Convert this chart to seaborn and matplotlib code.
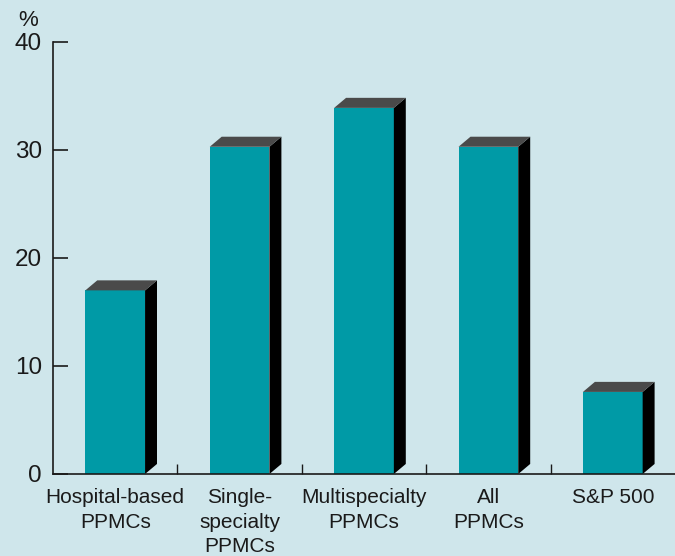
import matplotlib
matplotlib.use("Agg")
import matplotlib.pyplot as plt
from matplotlib.patches import Polygon
from matplotlib import font_manager
import seaborn as sns
import pandas as pd

categories = ["Hospital-based\nPPMCs", "Single-\nspecialty\nPPMCs", "Multispecialty\nPPMCs", "All\nPPMCs", "S&P 500"]
values = [17.0, 30.3, 33.9, 30.3, 7.6]
yticks = [0, 10, 20, 30, 40]

sns.set_theme(style="white")
names = {f.name for f in font_manager.fontManager.ttflist}
fam = "Liberation Sans Narrow" if "Liberation Sans Narrow" in names else "Liberation Sans"
plt.rcParams["font.family"] = [fam, "DejaVu Sans"]

bg = "#cfe6eb"
teal = "#009aa6"
fig = plt.figure(figsize=(6.75, 5.56), dpi=100, facecolor=bg)
ax = fig.add_axes([53/675, 82/556, 1 - 53/675, (474-42)/556])
ax.set_facecolor(bg)

df = pd.DataFrame({"cat": categories, "val": values})
sns.barplot(data=df, x="cat", y="val", color=teal, saturation=1, width=0.48, ax=ax, linewidth=0)

dx, dy = 0.096, 0.93
for p in ax.patches[:len(values)]:
    x0, w, h = p.get_x(), p.get_width(), p.get_height()
    side = Polygon([(x0+w, 0), (x0+w+dx, dy), (x0+w+dx, h+dy), (x0+w, h)], closed=True,
                   facecolor="black", edgecolor="none", clip_on=False, zorder=3)
    top = Polygon([(x0, h), (x0+dx, h+dy), (x0+w+dx, h+dy), (x0+w, h)], closed=True,
                  facecolor="#4a4a4a", edgecolor="none", clip_on=False, zorder=3)
    ax.add_patch(side)
    ax.add_patch(top)

ax.set_xlim(-0.5, 4.5)
ax.set_ylim(0, 40)
ax.set_yticks(yticks)
ax.set_yticklabels([str(t) for t in yticks], fontsize=17.5, color="#1a1a1a")
ax.tick_params(axis="y", direction="in", length=11, width=1.2, color="#1a1a1a", pad=8, left=True)
ax.set_xticks(range(len(categories)))
ax.set_xticklabels(categories, fontsize=15, color="#1a1a1a", linespacing=1.38)
ax.tick_params(axis="x", which="major", length=0, pad=10)
ax.set_xticks([0.5, 1.5, 2.5, 3.5], minor=True)
ax.tick_params(axis="x", which="minor", direction="in", length=7, width=1, color="#1a1a1a", bottom=True)
ax.set_xlabel("")
ax.set_ylabel("")
for s in ["top", "right"]:
    ax.spines[s].set_visible(False)
for s in ["left", "bottom"]:
    ax.spines[s].set_color("#1a1a1a")
    ax.spines[s].set_linewidth(1.2)
    ax.spines[s].set_zorder(4)

fig.text(28/675, 1 - 21/556, "%", fontsize=16, color="#1a1a1a", ha="center", va="center")

fig.savefig("out.png", dpi=100, facecolor=bg)
